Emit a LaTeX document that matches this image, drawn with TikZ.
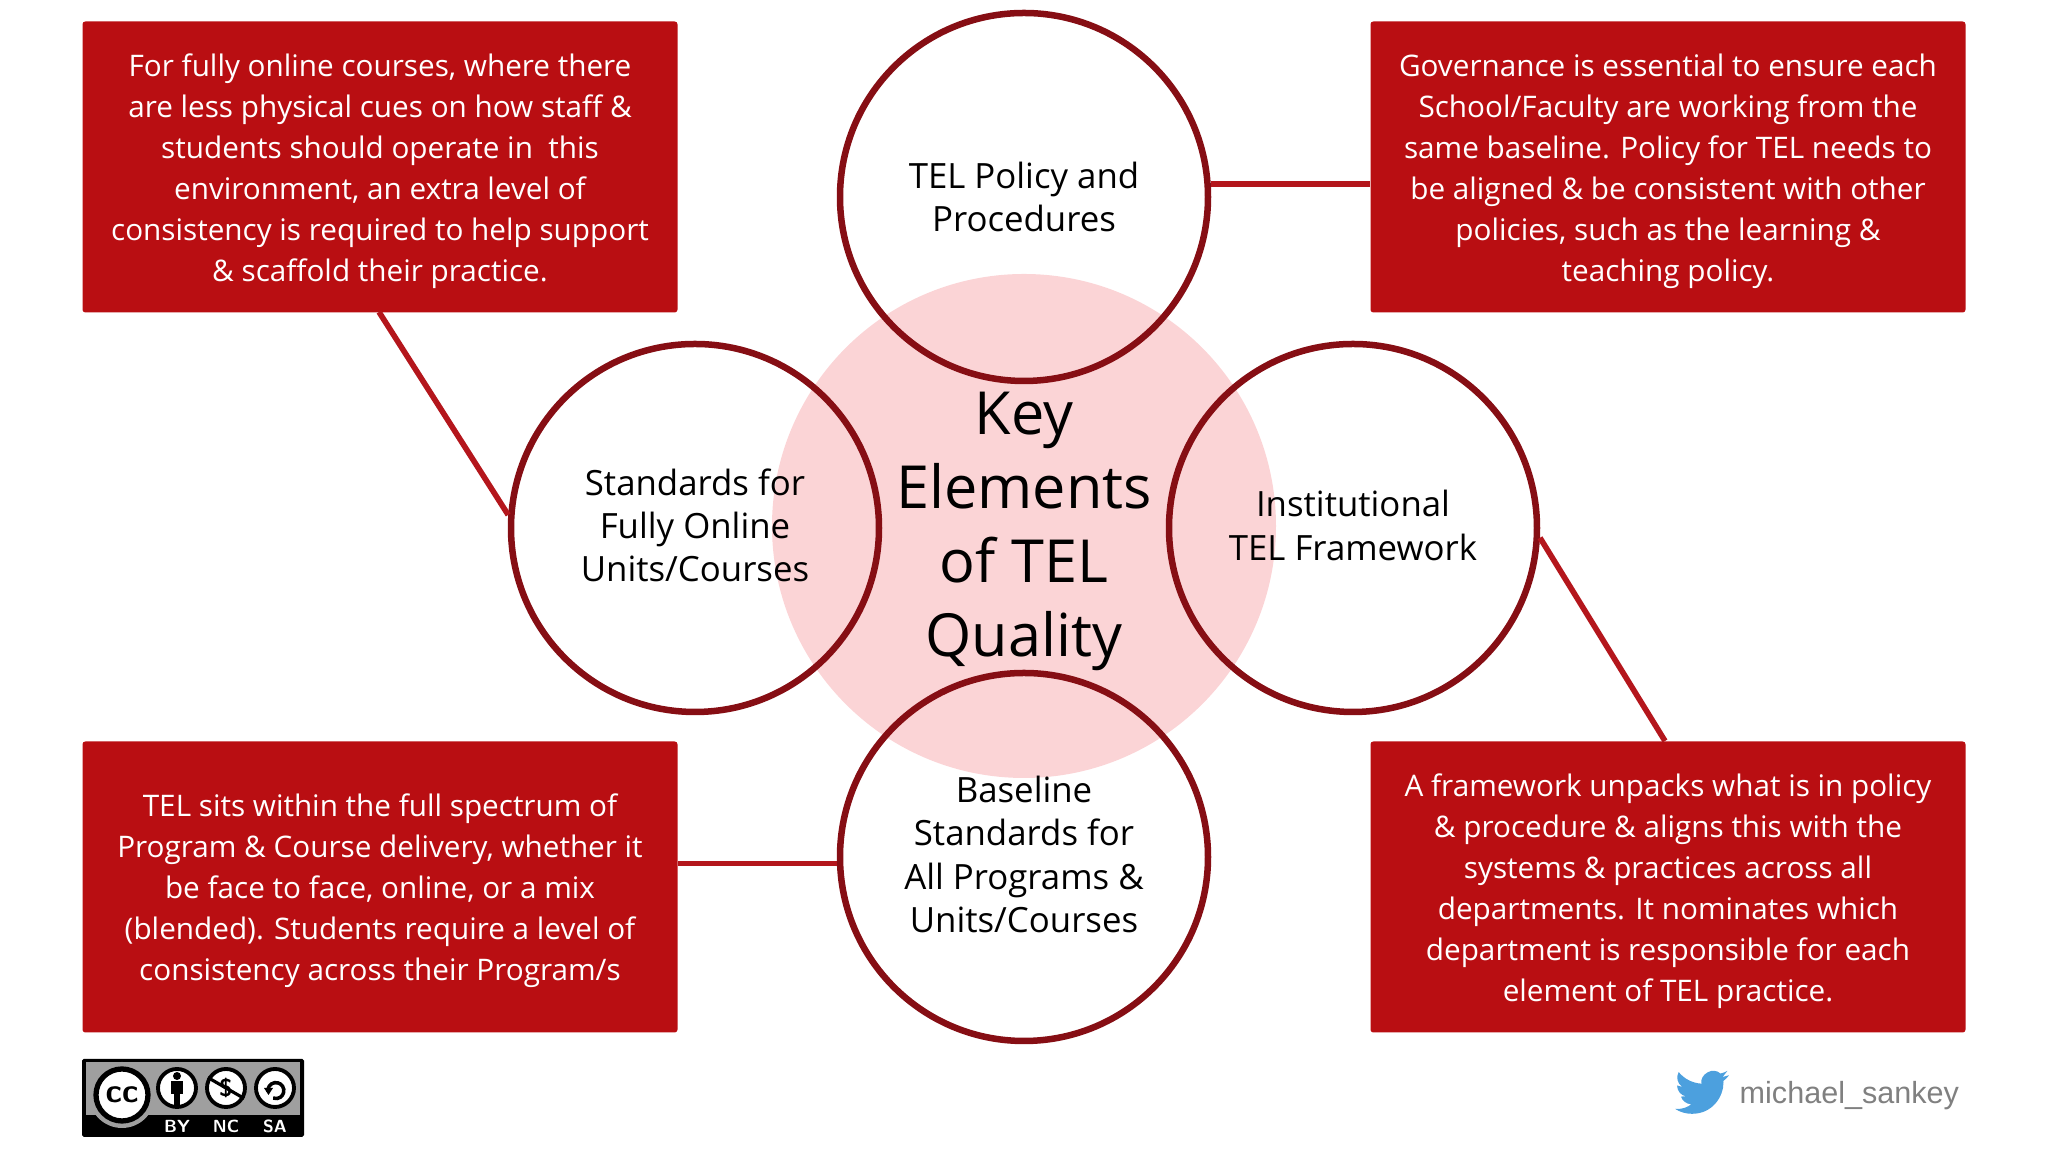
\documentclass[tikz,border=0pt]{standalone}
\usepackage{fontspec}
\setmainfont{Open Sans}
\newfontfamily\handlefont{Liberation Sans}
\usepackage{xcolor}
\usetikzlibrary{positioning}
\definecolor{boxred}{RGB}{185,14,18}
\definecolor{ringred}{RGB}{134,14,20}
\definecolor{linkred}{RGB}{180,22,28}
\definecolor{corepink}{RGB}{251,212,214}
\definecolor{birdblue}{RGB}{76,160,222}
\newcommand{\topgap}{\rule{0pt}{8.7pt}}
\tikzset{
	infobox/.style={fill=boxred,text=white,rounded corners=0.8pt,minimum width=5.95cm,minimum height=2.91cm,inner sep=0pt,align=center,font=\fontsize{8.45pt}{11.65pt}\selectfont},
	element/.style={circle,draw=ringred,line width=1.85pt,minimum size=3.68cm,inner sep=0pt,align=center,font=\fontsize{9.9pt}{12.3pt}\selectfont},
	lifted/.style={execute at end node={\rule[-#1]{0pt}{0pt}}},
	link/.style={draw=linkred,line width=1.6pt},
	badge/.style={circle,draw=black,fill=white,line width=1.1pt,minimum size=0.38cm,inner sep=0pt},
	badgetext/.style={text=white,inner sep=0pt,font=\fontsize{5pt}{6pt}\selectfont\sffamily\bfseries}
}
\begin{document}
\begin{tikzpicture}
	\useasboundingbox (0,0) rectangle (20.48,11.52);
	\node[circle,fill=corepink,minimum size=5.04cm,inner sep=0pt] (core) at (10.24,6.26) {};

	\node[element] (policy) at (10.24,9.55) {TEL Policy and\\Procedures};
	\node[element,lifted=1.5pt] (online) at (6.95,6.24) {Standards for\\Fully Online\\Units/Courses};
	\node[element,lifted=1.5pt] (framework) at (13.53,6.24) {Institutional\\TEL Framework};
	\node[element,lifted=1.5pt] (baseline) at (10.24,2.95) {Baseline\\Standards for\\All Programs \&\\Units/Courses};
	\node[align=center,font=\fontsize{16.9pt}{21pt}\selectfont] (title) at (10.24,6.205) {Key\\Elements\\of TEL\\Quality};

	\node[infobox] (onlinebox) at (3.8,9.85) {\topgap For fully online courses, where there\\are less physical cues on how staff \&\\students should operate in\ \ this\\environment, an extra level of\\consistency is required to help support\\\& scaffold their practice.};
	\node[infobox] (policybox) at (16.68,9.85) {\topgap Governance is essential to ensure each\\School/Faculty are working from the\\same baseline. Policy for TEL needs to\\be aligned \& be consistent with other\\policies, such as the learning \&\\teaching policy.};
	\node[infobox] (baselinebox) at (3.8,2.65) {\topgap TEL sits within the full spectrum of\\Program \& Course delivery, whether it\\be face to face, online, or a mix\\(blended). Students require a level of\\consistency across their Program/s};
	\node[infobox] (frameworkbox) at (16.68,2.65) {\topgap A framework unpacks what is in policy\\\& procedure \& aligns this with the\\systems \& practices across all\\departments. It nominates which\\department is responsible for each\\element of TEL practice.};

	\coordinate (onlineend) at (3.79,8.4);
	\coordinate (frameworkend) at (16.65,4.11);
	\draw[link] (policy.4.4) -- (policybox.west |- policy.4.4);
	\draw[link] (baseline.182.8) -- (baselinebox.east |- baseline.182.8);
	\draw[link] (online.176.4) -- (onlineend);
	\draw[link] (framework.357.5) -- (frameworkend);

	% licence badge
	\fill[black,rounded corners=0.5pt] (0.82,0.15) rectangle (3.04,0.93);
	\fill[gray!75] (0.86,0.37) rectangle (3.0,0.9);
	\fill[gray!75] (1.22,0.57) circle (0.33);
	\node[circle,draw=black,fill=white,line width=1.5pt,minimum size=0.52cm,inner sep=0pt,font=\fontsize{9.5pt}{9.5pt}\selectfont\sffamily\bfseries] (ccmark) at (1.22,0.57) {cc};
	\node[badge] (bymark) at (1.77,0.64) {};
	\node[badge] (ncmark) at (2.26,0.64) {};
	\node[badge] (samark) at (2.75,0.64) {};
	\fill (1.77,0.76) circle (0.04);
	\fill (1.71,0.71) rectangle (1.83,0.58);
	\fill (1.74,0.58) rectangle (1.8,0.47);
	\node[font=\fontsize{7pt}{7pt}\selectfont\sffamily\bfseries,inner sep=0pt] (dollar) at (2.26,0.64) {\$};
	\draw[line width=0.9pt] (ncmark.150) -- (ncmark.330);
	\draw[line width=1pt] (2.68,0.6) arc (190:-110:0.08);
	\fill (2.64,0.64) -- (2.73,0.64) -- (2.685,0.57) -- cycle;
	\node[badgetext] (bylabel) at (1.77,0.26) {BY};
	\node[badgetext] (nclabel) at (2.26,0.26) {NC};
	\node[badgetext] (salabel) at (2.75,0.26) {SA};

	% twitter handle
	\begin{scope}[shift={(16.75,0.33)},x=0.0225cm,y=0.0225cm]
		\fill[birdblue] (23.95,19.43) -- (21.13,18.65) -- (23.29,21.38) .. controls (22.34,20.83) and (21.29,20.42) .. (20.16,20.19) .. controls (18.8,21.6) and (16.5,21.8) .. (14.6,20.8) .. controls (12.6,19.7) and (11.3,17.8) .. (11.78,15.71) .. controls (7.69,15.9) and (4.07,17.87) .. (1.64,20.84) .. controls (0.4,18.6) and (1.0,15.8) .. (3.16,14.27) -- (0.93,14.88) .. controls (0.93,12.5) and (2.6,10.5) .. (4.88,10.05) -- (2.67,9.97) .. controls (3.3,8.0) and (5.1,6.6) .. (7.27,6.55) .. controls (5.5,5.2) and (3.4,4.45) .. (1.17,4.45) -- (0,4.51) .. controls (2.3,3.0) and (4.9,2.3) .. (7.56,2.3) .. controls (16.6,2.3) and (21.55,9.8) .. (21.55,16.29) -- (21.54,16.92) .. controls (22.5,17.6) and (23.3,18.5) .. (24,19.41) -- cycle;
	\end{scope}
	\node[anchor=west,inner sep=0pt,text=black!50,font=\fontsize{8.7pt}{11pt}\handlefont] (handle) at (17.39,0.56) {michael\_sankey};
\end{tikzpicture}
\end{document}
